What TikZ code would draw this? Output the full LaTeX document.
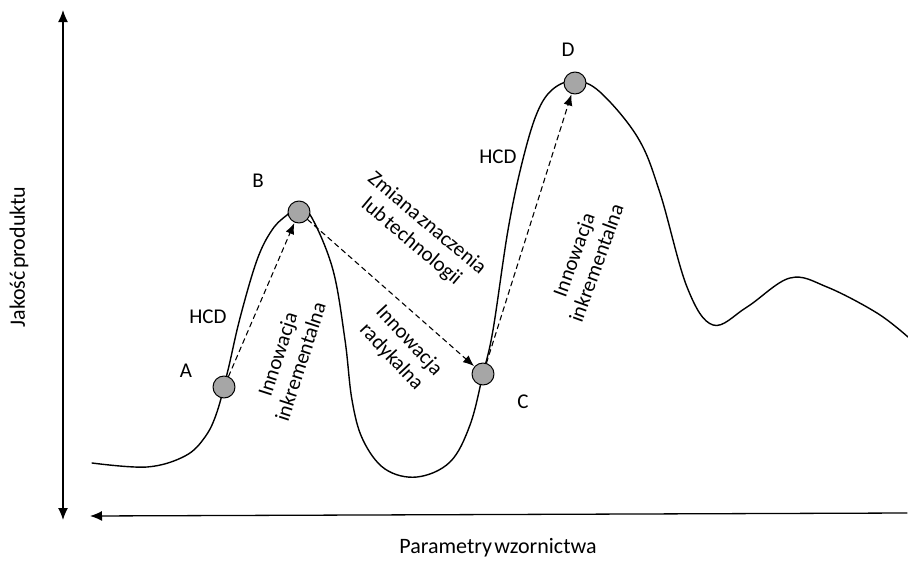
\documentclass[tikz,border=0pt]{standalone}
\usepackage{fontspec}
\setmainfont{Carlito}[WordSpace=0.45]
\usepackage{tikz}
\usetikzlibrary{arrows.meta}
\definecolor{dotgray}{RGB}{166,166,166}

\begin{document}
\begin{tikzpicture}[x=1pt,y=-1pt,line cap=round,line join=round,
    dot/.style={circle,draw,line width=1pt,fill=dotgray,minimum size=22pt,inner sep=0pt},
    lbl/.style={font=\fontsize{21}{24}\selectfont,align=center,inner sep=0pt},
    axlbl/.style={font=\fontsize{22}{26}\selectfont,inner sep=0pt},
    axis/.style={line width=1.3pt,-{Latex[length=12pt,width=10pt]}},
    jump/.style={dashed,dash pattern=on 5pt off 4pt,line width=1.1pt,-{Latex[length=11pt,width=9pt]},shorten >=0.5pt}]
\useasboundingbox (0,0) rectangle (908,560);

% axes
\coordinate (yb) at (63,520);
\coordinate (yt) at (63,10);
\coordinate (xr) at (907,513);
\coordinate (xl) at (90,516);
\draw[axis,{Latex[length=12pt,width=10pt]}-{Latex[length=12pt,width=10pt]}] (yb) -- (yt);
\draw[axis] (xr) -- (xl);
\node[axlbl,rotate=90] (ylab) at (19,257) {Jakość produktu};
\node[axlbl] (xlab) at (498,548) {Parametry wzornictwa};

% curve
\draw[line width=1.4pt] plot[smooth,tension=0.6] coordinates {
  (92,463) (147,467) (185,456) (205,437) (217,412) (228,370) (240,318) (257,260)
  (272,230) (287,215) (299,208) (312,218) (333,270) (345,340) (352,400)
  (363,440) (385,469) (417,477) (450,462) (470,425) (483,374) (493,330)
  (508,230) (522,163) (537,113) (553,89) (575,81) (600,92) (638,138)
  (660,193) (687,287) (713,325) (747,307) (790,278) (827,287) (877,313) (908,337)};

% points
\node[dot] (pA) at (224,387) {};
\node[dot] (pB) at (299,212) {};
\node[dot] (pC) at (483,374) {};
\node[dot] (pD) at (575,83) {};

\draw[jump] (pA) -- (pB);
\draw[jump] (pB) -- (pC);
\draw[jump] (pC) -- (pD);

\node[lbl] (tA) at (186,371) {A};
\node[lbl] (tB) at (258,181) {B};
\node[lbl] (tC) at (523,402) {C};
\node[lbl] (tD) at (568,50) {D};
\node[lbl] (hcd1) at (208,317) {HCD};
\node[lbl] (hcd2) at (498,157) {HCD};

\node[lbl,rotate=72] (inkr1) at (289,358) {Innowacja\\inkrementalna};
\node[lbl,rotate=-47] (radyk) at (400,349) {Innowacja\\radykalna};
\node[lbl,rotate=-40] (zmiana) at (419,233) {Zmiana znaczenia\\lub technologii};
\node[lbl,rotate=70] (inkr2) at (585,259) {Innowacja\\inkrementalna};
\end{tikzpicture}
\end{document}
